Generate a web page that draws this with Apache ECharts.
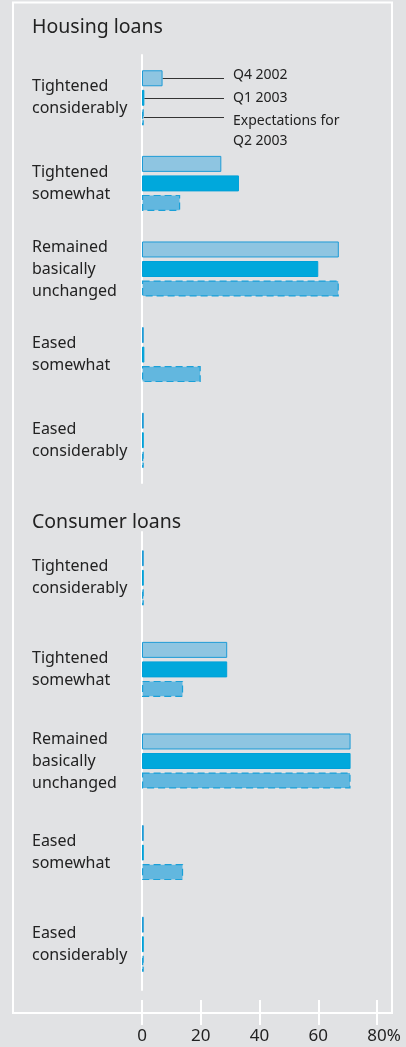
<!DOCTYPE html>
<html><head><meta charset="utf-8">
<script src="https://cdn.jsdelivr.net/npm/echarts@6/dist/echarts.min.js"></script>
<style>html,body{margin:0;padding:0;background:#e1e2e4;}#c{width:406px;height:1047px;}</style>
</head><body><div id="c"></div>
<script>
const categories = ['Tightened\nconsiderably','Tightened\nsomewhat','Remained\nbasically\nunchanged','Eased\nsomewhat','Eased\nconsiderably'];
const seriesNames = ['Q4 2002','Q1 2003','Expectations for\nQ2 2003'];
const housingQ4 = [7, 27, 67, 0.6, 0.6];
const housingQ1 = [0.8, 33, 60, 0.8, 0.6];
const housingExp = [0.6, 13, 67, 20, 0.6];
const consumerQ4 = [0.6, 29, 71, 0.6, 0.6];
const consumerQ1 = [0.6, 29, 71, 0.6, 0.6];
const consumerExp = [0.6, 14, 71, 14, 0.6];
const xTicks = [0, 20, 40, 60, 80];
const panelTitles = ['Housing loans','Consumer loans'];

const FONT = 'Noto Sans';
const styles = [
  {color:'#8ec5e1', borderColor:'#1e9bd6', borderWidth:1},
  {color:'#00a8dc', borderColor:'#00a0d8', borderWidth:1},
  {color:'#62b7df', borderColor:'#1aa0d8', borderWidth:1.2, borderType:[7,4]}
];
function yAx(g){
  return {type:'category', gridIndex:g, inverse:true, data:categories,
    axisLine:{show:true, lineStyle:{color:'#ffffff', width:2}},
    axisTick:{show:false}, splitLine:{show:false},
    axisLabel:{align:'left', margin:110, fontFamily:FONT, fontSize:16, lineHeight:22, color:'#222'}};
}
function bar(name, data, g, s){
  return {type:'bar', name:name, xAxisIndex:g, yAxisIndex:g, data:data, barWidth:16, barGap:'22%',
    itemStyle:Object.assign({}, styles[s]), animation:false, silent:true};
}
const chart = echarts.init(document.getElementById('c'));
chart.setOption({
  backgroundColor:'#e1e2e4',
  animation:false,
  grid:[{left:142, right:29, top:55, height:428},{left:142, right:29, top:532, height:458}],
  xAxis:[
    {gridIndex:0, type:'value', min:xTicks[0], max:xTicks[xTicks.length-1], interval:20, show:false},
    {gridIndex:1, type:'value', min:xTicks[0], max:xTicks[xTicks.length-1], interval:20, offset:10,
     axisLine:{show:false}, splitLine:{show:false},
     axisTick:{show:true, length:25, lineStyle:{color:'#ffffff', width:2}},
     axisLabel:{margin:28, fontFamily:FONT, fontSize:17, color:'#222',
       formatter:function(v){ return v===80 ? '{h|%}'+v+'%' : String(v); },
       rich:{h:{color:'transparent', fontFamily:FONT, fontSize:17}}}}
  ],
  yAxis:[yAx(0), yAx(1)],
  series:[
    bar(seriesNames[0], housingQ4, 0, 0), bar(seriesNames[1], housingQ1, 0, 1), bar(seriesNames[2], housingExp, 0, 2),
    bar(seriesNames[0], consumerQ4, 1, 0), bar(seriesNames[1], consumerQ1, 1, 1), bar(seriesNames[2], consumerExp, 1, 2)
  ]
});
const gfx = [
  {type:'rect', shape:{x:13, y:2.5, width:379, height:1010.5}, style:{fill:'none', stroke:'#ffffff', lineWidth:2}, silent:true},
  {type:'text', left:32, top:17, style:{text:panelTitles[0], font:'19.5px "Noto Sans"', fill:'#222'}},
  {type:'text', left:32, top:512, style:{text:panelTitles[1], font:'19.5px "Noto Sans"', fill:'#222'}}
];
const textX = 233, lineEnd = 224;
for (let i=0;i<3;i++){
  const lay = chart.getModel().getSeriesByIndex(i).getData().getItemLayout(0);
  const y = Math.round(lay.y + lay.height/2) + 0.5;
  const x0 = lay.x + lay.width;
  gfx.push({type:'line', shape:{x1:x0, y1:y, x2:lineEnd, y2:y}, style:{stroke:'#333', lineWidth:1}, silent:true});
  gfx.push({type:'text', x:textX, y: i===2 ? y-6 : (i===0 ? y-3 : y),
    style:{text:seriesNames[i], font:'14px "Noto Sans"', fill:'#222', verticalAlign: i===2 ? 'top' : 'middle', lineHeight:20}});
}
chart.setOption({graphic:gfx});
</script></body></html>
